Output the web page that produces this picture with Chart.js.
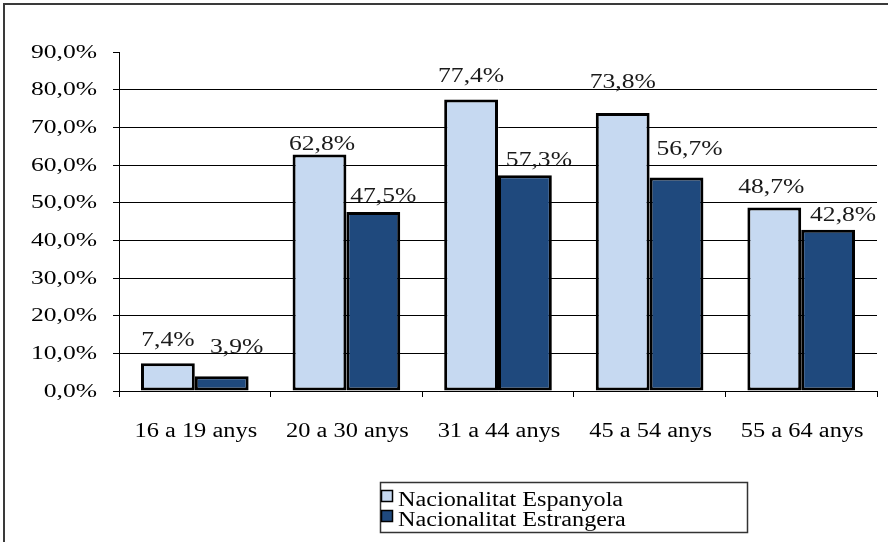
<!DOCTYPE html>
<html>
<head>
<meta charset="utf-8">
<script src="https://cdn.jsdelivr.net/npm/chart.js@4.4.1/dist/chart.umd.min.js"></script>
<style>
  html, body { margin: 0; padding: 0; background: #fff; }
  canvas { display: block; }
  .probe { font-family: "Liberation Serif"; position: absolute; left: -999px; }
</style>
</head>
<body>
<span class="probe">0</span>
<canvas id="chart" width="888" height="542"></canvas>
<script>
// Age groups and employment rate by nationality (%)
const categories = ['16 a 19 anys', '20 a 30 anys', '31 a 44 anys', '45 a 54 anys', '55 a 64 anys'];
const seriesNames = ['Nacionalitat Espanyola', 'Nacionalitat Estrangera'];
const espanyola = [7.4, 62.8, 77.4, 73.8, 48.7];
const estrangera = [3.9, 47.5, 57.3, 56.7, 42.8];
const yTickValues = [0, 10, 20, 30, 40, 50, 60, 70, 80, 90];

const colors = ['#C6D9F1', '#1F497D'];
const SERIF = '"Liberation Serif", "Times New Roman", Tinos, serif';

function fmtPct(v) {
  return v.toFixed(1).replace('.', ',') + '%';
}

// Text drawn with a horizontal stretch, like the wide serif lettering of the sheet
function wideText(ctx, text, x, y, sx, align, baseline) {
  ctx.save();
  ctx.translate(x, y);
  ctx.scale(sx, 1);
  ctx.textAlign = align;
  ctx.textBaseline = baseline || 'alphabetic';
  ctx.fillText(text, 0, 0);
  ctx.restore();
}

// Small per-label nudges for the value labels (style only)
const labelNudge = {
  0: { dx: [0, 2.5, 0, 0, -3], gap: [17, 4, 17, 25, 15] },
  1: { dx: [15, 10, 14, 13, 15], gap: [23, 10, 9, 22, 9] }
};

const decorPlugin = {
  id: 'decor',
  beforeDraw(chart) {
    const ctx = chart.ctx;
    ctx.save();
    ctx.fillStyle = '#fff';
    ctx.fillRect(0, 0, chart.width, chart.height);
    // outer frame (top and left edges)
    ctx.strokeStyle = '#3a3a3a';
    ctx.lineWidth = 2;
    ctx.beginPath();
    ctx.moveTo(888, 4);
    ctx.lineTo(4, 4);
    ctx.lineTo(4, 542);
    ctx.stroke();
    ctx.restore();
  },
  afterDraw(chart) {
    const ctx = chart.ctx;
    const ys = chart.scales.y;
    const xs = chart.scales.x;
    ctx.save();
    ctx.fillStyle = '#000';

    // y tick labels
    ctx.font = '18px ' + SERIF;
    yTickValues.forEach(v => {
      wideText(ctx, fmtPct(v), 97, ys.getPixelForValue(v) + 1, 1.42, 'right', 'middle');
    });

    // category labels
    ctx.font = '20px ' + SERIF;
    categories.forEach((c, i) => {
      wideText(ctx, c, xs.getPixelForValue(i) + 1, 437, 1.22, 'center');
    });

    // value labels above bars
    ctx.fillStyle = '#1a1a1a';
    ctx.font = '20px ' + SERIF;
    chart.data.datasets.forEach((ds, di) => {
      const meta = chart.getDatasetMeta(di);
      meta.data.forEach((bar, i) => {
        const n = labelNudge[di];
        wideText(ctx, fmtPct(ds.data[i]), bar.x + n.dx[i], bar.y - n.gap[i], 1.28, 'center');
      });
    });

    // legend box
    ctx.strokeStyle = '#333';
    ctx.lineWidth = 1.5;
    ctx.strokeRect(380.5, 482.5, 367, 50);
    ctx.font = '20px ' + SERIF;
    chart.data.datasets.forEach((ds, di) => {
      const sy = 490.5 + di * 20;
      ctx.fillStyle = ds.backgroundColor;
      ctx.fillRect(381.5, sy, 11, 11);
      ctx.strokeStyle = '#000';
      ctx.lineWidth = 1.5;
      ctx.strokeRect(381.5, sy, 11, 11);
      ctx.fillStyle = '#000';
      wideText(ctx, ds.label, 398, 506 + di * 20, 1.21, 'left');
    });
    ctx.restore();
  }
};

function build() {
  new Chart(document.getElementById('chart'), {
    type: 'bar',
    data: {
      labels: categories,
      datasets: [
        {
          label: seriesNames[0],
          data: espanyola,
          backgroundColor: colors[0],
          borderColor: '#000',
          borderWidth: 3,
          borderSkipped: false,
          inflateAmount: 0,
          categoryPercentage: 0.71,
          barPercentage: 1.0
        },
        {
          label: seriesNames[1],
          data: estrangera,
          backgroundColor: colors[1],
          borderColor: '#000',
          borderWidth: 3,
          borderSkipped: false,
          inflateAmount: 0,
          categoryPercentage: 0.71,
          barPercentage: 1.0
        }
      ]
    },
    options: {
      responsive: false,
      animation: false,
      devicePixelRatio: 1,
      layout: { padding: { top: 52, right: 11, left: 0, bottom: 0 } },
      plugins: {
        legend: { display: false },
        title: { display: false },
        tooltip: { enabled: false }
      },
      scales: {
        x: {
          offset: true,
          ticks: { display: false },
          grid: {
            offset: true,
            drawOnChartArea: false,
            drawTicks: true,
            tickLength: 6,
            color: '#000',
            lineWidth: 1
          },
          border: { display: true, color: '#000', width: 1 },
          afterFit(scale) { scale.height = 542 - 391; }
        },
        y: {
          min: 0,
          max: 90,
          ticks: { display: false, stepSize: 10 },
          grid: {
            drawTicks: true,
            tickLength: 6,
            color: (c) => (c.tick && c.tick.value === 90 ? 'rgba(0,0,0,0)' : '#000'),
            tickColor: '#000',
            lineWidth: 1
          },
          border: { display: true, color: '#000', width: 1 },
          afterFit(scale) { scale.width = 119; }
        }
      }
    },
    plugins: [decorPlugin]
  });
}

Promise.all([
  document.fonts.load('20px "Liberation Serif"'),
  document.fonts.load('18px "Liberation Serif"')
]).catch(() => {}).then(build);
</script>
</body>
</html>
